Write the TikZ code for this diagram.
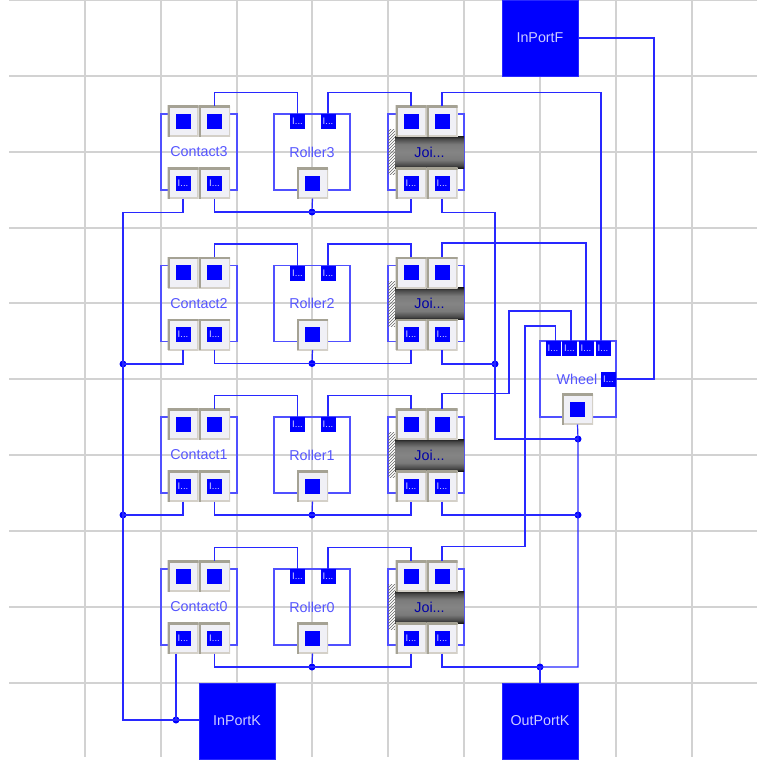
\documentclass[tikz,border=0pt]{standalone}
\usepackage{fontspec}
\setmainfont{Liberation Sans}
\usetikzlibrary{patterns}
\definecolor{gridgray}{RGB}{210,210,210}
\definecolor{wireblue}{RGB}{40,40,255}
\definecolor{boxblue}{RGB}{80,80,255}
\definecolor{labelblue}{RGB}{85,85,255}
\definecolor{btnfill}{RGB}{240,240,246}
\definecolor{btndark}{RGB}{165,162,148}
\definecolor{btnlight}{RGB}{212,208,200}
\pgfdeclareverticalshading{barrelshade}{100bp}{
    color(0bp)=(black!90); color(25bp)=(black!90); color(29bp)=(black!72); color(38bp)=(black!52);
    color(50bp)=(black!48); color(62bp)=(black!52); color(71bp)=(black!72); color(75bp)=(black!90); color(100bp)=(black!90)}
\begin{document}
\begin{tikzpicture}[
        x=1pt, y=-1pt,
        gridline/.style={gridgray, line width=1.1pt},
        wire/.style={wireblue, line width=1.2pt},
        block/.style={draw=boxblue, line width=1.2pt, minimum size=76pt, inner sep=0pt, outer sep=0pt,
                      font=\fontsize{14.3}{16}\selectfont, text=labelblue},
        port/.style={fill=blue, minimum size=15pt, inner sep=0pt, outer sep=0pt,
                     font=\fontsize{9.5}{10}\selectfont, text=white!85!blue},
        btn/.style={minimum size=31pt, inner sep=0pt, outer sep=0pt, fill=btnfill,
                    font=\fontsize{9.5}{10}\selectfont, text=white!85!blue,
                    path picture={
                        \fill[blue] ([shift={(-7.5pt,-7.5pt)}]path picture bounding box.center)
                            rectangle ([shift={(7.5pt,7.5pt)}]path picture bounding box.center);
                        \draw[btnlight, line width=3pt] (path picture bounding box.south west) -| (path picture bounding box.north east);
                        \draw[btndark, line width=4.5pt] (path picture bounding box.south west) |- (path picture bounding box.north east);
                    }},
        bigport/.style={fill=blue, draw=wireblue, minimum size=76pt, inner sep=0pt, outer sep=0pt,
                        font=\fontsize{14.3}{16}\selectfont, text=white!80!blue},
        dot/.style={circle, fill=blue, minimum size=7pt, inner sep=0pt, outer sep=0pt},
        barrel/.style={minimum width=69pt, minimum height=32pt, inner sep=0pt, outer sep=0pt,
                       shading=barrelshade,
                       font=\fontsize{14.3}{16}\selectfont, text=blue!65!black},
        hatch/.style={pattern=north east lines, pattern color=black!60, minimum width=7pt, minimum height=45pt,
                      inner sep=0pt, outer sep=0pt}
    ]
    \useasboundingbox (0,0) rectangle (757,760);
    \fill[white] (0,0) rectangle (757,760);
    % grid
    \foreach \x in {85,161,237,312,388,464,540,616,692}
        \draw[gridline] (\x,0) -- (\x,757);
    \foreach \y in {0.5,76,152,228,303,379,455,531,607,683}
        \draw[gridline] (9,\y) -- (757,\y);

    % four rows of blocks
    \foreach \n/\y in {3/152,2/303.5,1/455,0/607} {
        \node[block] (c\n) at (199,\y) {Contact\n};
        \node[block] (r\n) at (312,\y) {};
        \node[font=\fontsize{14.3}{16}\selectfont, text=labelblue] (rl\n) at (312,\y) {Roller\n};
        \node[block] (j\n) at (426,\y) {};
        \node[hatch] (h\n) at (391.5,\y) {};
        \node[barrel] (b\n) at (429.5,\y) {Joi...};

        \node[btn] (c\n tl) at (183,\y-31) {};
        \node[btn] (c\n tr) at (214.5,\y-31) {};
        \node[btn] (c\n bl) at (183,\y+31) {I...};
        \node[btn] (c\n br) at (214.5,\y+31) {I...};
        \node[port] (r\n l) at (297.5,\y-30.5) {I...};
        \node[port] (r\n r) at (328,\y-30.5) {I...};
        \node[btn] (r\n b) at (312.5,\y+31) {};
        \node[btn] (j\n tl) at (411,\y-31) {};
        \node[btn] (j\n tr) at (442,\y-31) {};
        \node[btn] (j\n bl) at (411,\y+31) {I...};
        \node[btn] (j\n br) at (442,\y+31) {I...};

        \node[dot] (d\n) at (312,\y+60) {};
        \draw[wire] (r\n b.south) -- (d\n);
        \draw[wire] (c\n br.south) |- (d\n.center) -| (j\n bl.south);
        \draw[wire] (c\n tr.north) -- ++(0,-13) -| (r\n l.north);
        \draw[wire] (j\n tl.north) -- ++(0,-13) -| (r\n r.north);
    }

    % wheel
    \node[block] (w) at (578,379) {};
    \node[font=\fontsize{14.3}{16}\selectfont, text=labelblue] (wl) at (577,379) {Wheel};
    \node[port] (w1) at (553,348.5) {I...};
    \node[port] (w2) at (569.5,348.5) {I...};
    \node[port] (w3) at (586,348.5) {I...};
    \node[port] (w4) at (603,348.5) {I...};
    \node[port] (wr) at (608.5,379) {I...};
    \node[btn] (wb) at (577.5,409) {};

    % ports
    \node[bigport] (inf) at (540,38) {InPortF};
    \node[bigport] (ink) at (237,721) {InPortK};
    \node[bigport] (outk) at (540,721) {OutPortK};

    % junctions
    \node[dot] (dl2) at (123,364) {};
    \node[dot] (dl1) at (123,515) {};
    \node[dot] (dk) at (176,720) {};
    \node[dot] (dj2) at (495,364) {};
    \node[dot] (dw) at (578,439) {};
    \node[dot] (dm) at (578,515) {};
    \node[dot] (dout) at (540,667) {};

    % left rail
    \draw[wire] (c3bl.south) -- ++(0,14) -| (dl2.center);
    \draw[wire] (dl2.center) -- (dl1.center) |- (dk.center);
    \draw[wire] (c2bl.south) |- (dl2.center);
    \draw[wire] (c1bl.south) |- (dl1.center);
    \draw[wire] ([xshift=-7]c0bl.south) -- (dk.center) -- (ink.west |- dk.center);

    % right side
    \draw[wire] (j3br.south) -- ++(0,14) -| (dj2.center);
    \draw[wire] (j2br.south) |- (dj2.center);
    \draw[wire] (dj2.center) |- (dw.center);
    \draw[wire] (j1br.south) |- (dm.center);
    \draw[wire] (wb.south) -- (dw.center) -- (dm.center) |- (dout.center);
    \draw[wire] (j0br.south) |- (dout.center);
    \draw[wire] (outk.north) -- (dout.center);

    % wheel inputs
    \draw[wire] (j3tr.north) -- ++(0,-13) -| ([xshift=-2]w4.north);
    \draw[wire] (j2tr.north) -- ++(0,-14) -| (w3.north);
    \draw[wire] (j1tr.north) -- ++(0,-15) -| (509,311) -| ([xshift=1.5]w2.north);
    \draw[wire] (j0tr.north) -- ++(0,-14) -| (525,326) -| ([xshift=2.5]w1.north);
    \draw[wire] (inf.east) -| (654,379) -- (wr.east);
\end{tikzpicture}
\end{document}
